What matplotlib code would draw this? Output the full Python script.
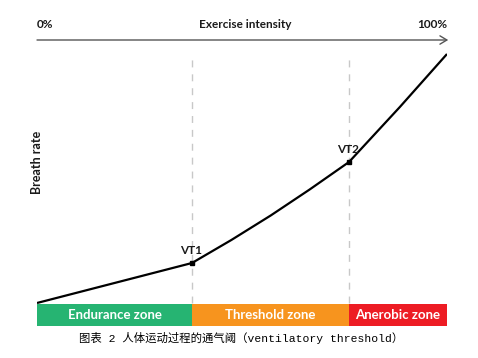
import matplotlib
matplotlib.use('Agg')
import matplotlib.pyplot as plt

# exercise intensity (%) vs breath rate (arbitrary units)
intensity = [0, 37.8, 47.4, 57, 66.5, 76.1, 88.5, 100]
breath = [0, 40, 63, 87.5, 113.5, 141, 196, 249]

vt_names = ['VT1', 'VT2']
vt_x = [37.8, 76.1]
vt_y = [40, 141]

zone_names = ['Endurance zone', 'Threshold zone', 'Anerobic zone']
zone_edges = [0, 37.8, 76.1, 100]
zone_colors = ['#26b472', '#f7941e', '#ed1c24']

caption = '图表 2 人体运动过程的通气阈（ventilatory threshold）'

W, H = 478, 358
fig = plt.figure(figsize=(W / 100, H / 100), dpi=100)
ax = fig.add_axes([37 / W, 1 - 326 / H, 410 / W, 286 / H])
ax.set_xlim(0, 100)
ax.set_ylim(-23, 263)
ax.axis('off')

font = 'Lato'
dark = '#1a1a1a'

# dashed threshold lines
for x in vt_x:
    ax.plot([x, x], [0, 246], color='#c8c8c8', lw=1, ls=(0, (5, 5)), zorder=1)

# main curve
ax.plot(intensity, breath, color='black', lw=1.6, zorder=3, solid_capstyle='butt')
ax.plot(vt_x, vt_y, 's', color='black', ms=3.5, zorder=4)
for name, x, y in zip(vt_names, vt_x, vt_y):
    ax.text(x - 0.3, y + 7, name, ha='center', va='bottom', fontsize=8.5,
            fontfamily=font, fontweight='bold', color=dark)

# zones at the bottom
for i, name in enumerate(zone_names):
    x0, x1 = zone_edges[i], zone_edges[i + 1]
    ax.fill_between([x0, x1], -23, -1, color=zone_colors[i], lw=0, zorder=2)
    ax.text((x0 + x1) / 2, -12, name, ha='center', va='center', color='white',
            fontsize=9.5, fontfamily=font, fontweight='bold', zorder=3)

# top intensity arrow
ax.annotate('', xy=(100.3, 263), xytext=(0, 263),
            arrowprops=dict(arrowstyle='->,head_length=0.5,head_width=0.3',
                            color='#555555', lw=1, shrinkA=0, shrinkB=0),
            annotation_clip=False)
ax.text(0, 279, '0%', ha='left', va='center', fontsize=8.5, fontfamily=font,
        fontweight='bold', color=dark)
ax.text(50.7, 279, 'Exercise intensity', ha='center', va='center', fontsize=8.5,
        fontfamily=font, fontweight='bold', color=dark)
ax.text(100, 279, '100%', ha='right', va='center', fontsize=8.5, fontfamily=font,
        fontweight='bold', color=dark)

ax.text(0, 141, 'Breath rate', ha='center', va='center', rotation=90,
        fontsize=9, fontfamily=font, fontweight='bold', color=dark)

fig.text(241 / W, 1 - 338 / H, caption, ha='center', va='center', fontsize=8.2,
         family=['Liberation Mono', 'Noto Sans CJK SC'], color='black')

fig.savefig('out.png', dpi=100, facecolor='white')
